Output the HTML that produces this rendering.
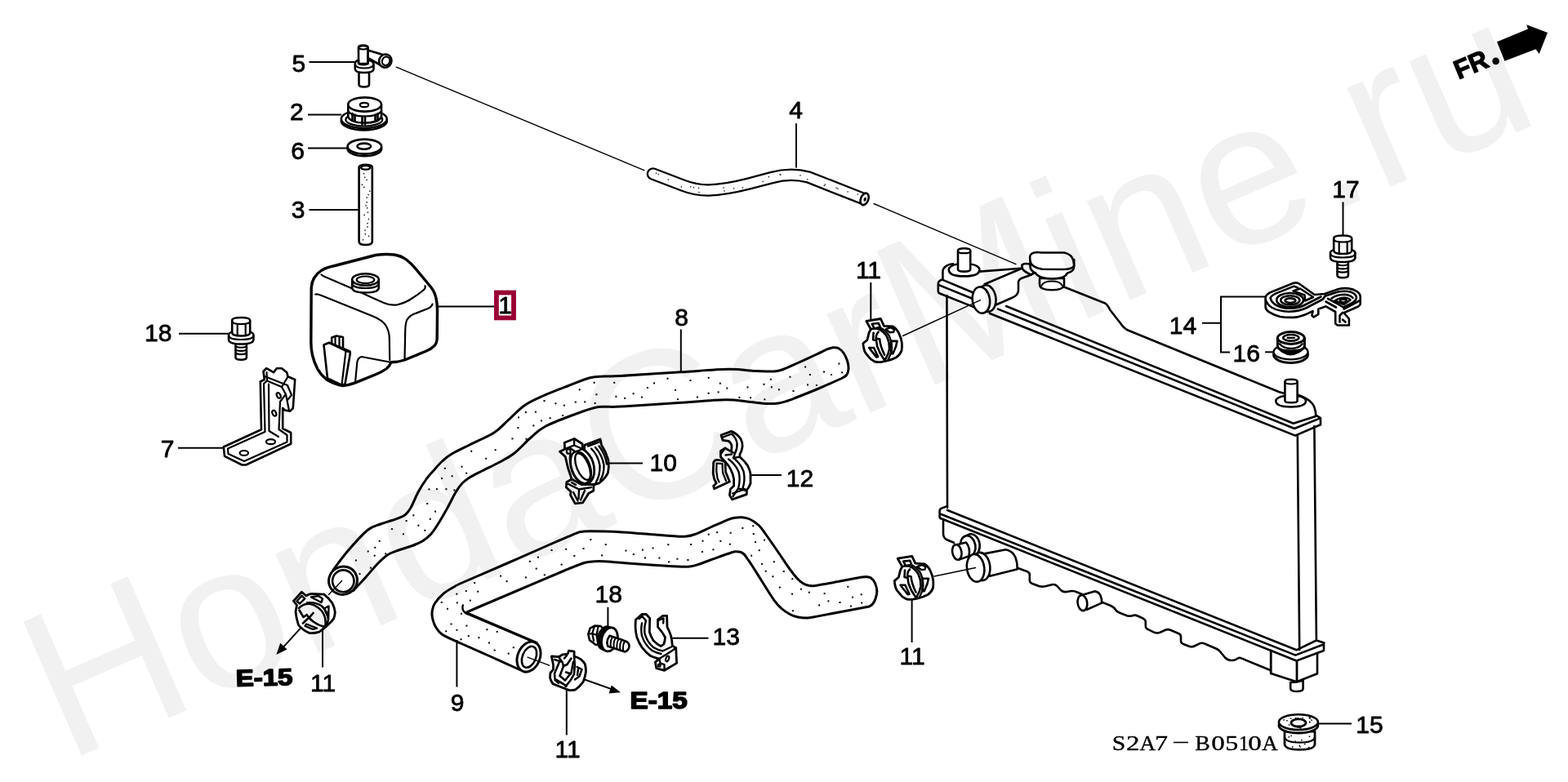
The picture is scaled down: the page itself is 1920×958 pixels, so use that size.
<!DOCTYPE html>
<html><head><meta charset="utf-8"><title>Radiator hose diagram</title>
<style>
html,body{margin:0;padding:0;background:#fff;}
body{width:1920px;height:958px;overflow:hidden;font-family:"Liberation Sans",sans-serif;}
svg{display:block;}
.o{fill:#fff;stroke:#000;stroke-width:2.6;stroke-linejoin:round;stroke-linecap:round;}
.k{fill:#fff;stroke:#000;stroke-width:3.4;stroke-linejoin:round;stroke-linecap:round;}
.n{fill:none;stroke:#000;stroke-width:2.6;stroke-linejoin:round;stroke-linecap:round;}
.m{fill:none;stroke:#000;stroke-width:2.2;stroke-linejoin:round;stroke-linecap:round;}
.t{fill:none;stroke:#000;stroke-width:1.4;stroke-linecap:round;}
.l{fill:none;stroke:#000;stroke-width:2;}
.b{fill:#000;stroke:none;}
.g{fill:#000;stroke:#000;stroke-width:0.8;stroke-linejoin:round;font-family:"Liberation Sans",sans-serif;font-size:30px;}
.d{fill:#000;}
</style></head><body>
<svg width="1920" height="958" viewBox="0 0 1920 958">
<rect x="0" y="0" width="1920" height="958" fill="#fff"/>
<defs>
<!-- bolt symbol: origin top-center of head -->
<g id="bolt">
<path class="o" d="M-6.7,30 V49.3 Q-6.7,52.3 0,52.3 Q6.7,52.3 6.7,49.3 V30 Z"/>
<path class="m" d="M-6.7,36 Q0,38.5 6.7,36 M-6.7,40.2 Q0,42.7 6.7,40.2 M-6.7,44.4 Q0,46.9 6.7,44.4"/>
<path class="o" d="M-15.2,22 Q-15.2,17 0,17 Q15.2,17 15.2,22 V27.5 Q15.2,33 0,33 Q-15.2,33 -15.2,27.5 Z"/>
<path class="m" d="M-15.2,22 Q-15.2,27.5 0,27.5 Q15.2,27.5 15.2,22"/>
<path class="o" d="M-11,4 Q-11,0.5 0,0.5 Q11,0.5 11,4 V19 Q11,23 0,23 Q-11,23 -11,19 Z"/>
<path class="m" d="M-11,5 Q-11,8.5 0,8.5 Q11,8.5 11,5 M-4.5,8.5 V22.5 M5.5,8.5 V22.5"/>
</g>
</defs>

<defs>
<!-- clamp symbol (orientation A/C), local coords -->
<g id="clampA">
<path class="o" style="stroke-width:2.8" d="M14.2,14.2 L31.8,11.3 L35.8,20.1 L46.8,20.8 Q51.5,23.5 54.1,29.2 Q57,35 57.7,41 Q58.2,46 57.4,50.4 Q55.5,55.5 51.1,58.5 Q45.5,61.5 39.5,62.8 L33,64.2 Q28,64.8 24.1,63.6 Q19,61 16,56.5 Q13.2,53.5 12.1,51.1 Q10.6,46.5 10.2,41.6 L15.3,37.3 L17.5,28.5 L19.7,24.1 Z"/>
<path class="n" style="stroke-width:2.6" d="M21.2,17.6 L29.2,16.8 L31.2,21.5 L24,23.2 Z"/>
<path class="n" style="stroke-width:2.6" d="M19.7,24.1 Q24,22.5 29.5,24 Q36,27 39.5,33.5 Q42.8,40.5 42.5,48 Q41.5,54.5 38,60 L36,63.5"/>
<path class="n" style="stroke-width:2.4" d="M29.5,24 L32,22.6 Q38,25.5 42,32 Q45.5,39 45.3,47.5 Q44.6,55 41,61.5"/>
<path class="n" style="stroke-width:2.6" d="M23,28.5 L22.5,37 L26.5,38 L27.5,45 Q30,53 35.5,60.5 M29,27.5 Q26,30 26.2,35.5 L30.5,36.2 Q31.5,46 36.5,55.5"/>
<path class="n" style="stroke-width:2.4" d="M38,24.2 L43,28 L47.5,27.6 L48.5,24.5 L44,22 Z"/>
<path class="n" style="stroke-width:2.6" d="M44.6,38.7 H51.9 L50.5,45 L46.8,54.1 H44.9 Z"/>
<path class="n" style="stroke-width:2.6" d="M17.5,46.8 H23.4 L28.5,57.7 L26.5,58.2 Z"/>
</g>
</defs>

<!-- part 5 joint -->
<g id="p5">
<path class="o" d="M439,78 V58 Q439,55.5 444.8,55.5 Q450.6,55.5 450.6,58 V78 Z"/>
<ellipse class="m" cx="444.8" cy="58.3" rx="5.6" ry="2.2"/>
<path class="o" d="M450.6,61.5 L469.5,67.2 L465.5,79.5 L450.6,71 Z"/>
<ellipse class="o" cx="471.8" cy="74.6" rx="7.6" ry="8.2" transform="rotate(20 471.8 74.6)"/>
<ellipse class="m" cx="472.6" cy="74.8" rx="4.6" ry="5.4" transform="rotate(20 472.6 74.8)"/>
<path class="o" d="M439.5,88 V103.5 Q439.5,106.5 445.8,106.5 Q452,106.5 452,103.5 V88 Z"/>
<path class="o" d="M434.8,78.5 Q434.8,74.5 439,73.8 V78 Q445,80.5 450.6,78 V73.8 Q457.5,74.5 457.5,79 V84.5 Q457.5,89 446,89 Q434.8,89 434.8,84.5 Z"/>
<path class="m" d="M434.8,79 Q436,83.5 446,83.5 Q456.5,83.5 457.5,79"/>
</g>
<!-- part 2 cap -->
<g id="p2">
<ellipse class="o" cx="445.8" cy="148.2" rx="28" ry="11.2"/>
<ellipse class="o" cx="445.8" cy="145.8" rx="28" ry="11.2"/>
<ellipse class="m" cx="445.8" cy="146.5" rx="22.5" ry="8"/>
<path class="o" d="M426.3,128 V143.5 Q430,150.5 446.5,150.5 Q463,150.5 467,143.5 V128 Z"/>
<ellipse class="o" cx="446.6" cy="128" rx="20.4" ry="8.6"/>
<path class="m" d="M426.3,136.5 Q431,142.5 446.5,142.5 Q462,142.5 467,136.5"/>
<path class="n" d="M431.5,139 V147.5 M434.5,140.5 V148.5 M443.5,142.5 V152.5 M447,142.5 V152.5 M459.5,140.5 V148.5 M462.5,139 V147.5"/>
<ellipse class="m" cx="446" cy="128.5" rx="5.2" ry="2.6"/>
</g>
<!-- part 6 washer -->
<g id="p6">
<ellipse class="o" cx="446.4" cy="182.3" rx="20.8" ry="9"/>
<ellipse class="o" cx="446.4" cy="179.6" rx="20.8" ry="9"/>
<ellipse class="n" cx="445.8" cy="179.2" rx="8.4" ry="3.6"/>
</g>
<!-- part 3 tube -->
<g id="p3">
<path class="o" d="M439.6,205 Q439.6,201.8 447.6,201.8 Q455.8,201.8 455.8,205 V296 Q455.8,300 447.6,300 Q439.6,300 439.6,296 Z"/>
<ellipse class="m" cx="447.7" cy="205.3" rx="5.6" ry="2.4"/>
<g id="p3dots"><g class="d"><rect x="444.8" y="212.1" width="1.4" height="1.4"/><rect x="446.0" y="216.5" width="1.4" height="1.4"/><rect x="448.4" y="219.7" width="1.4" height="1.4"/><rect x="442.6" y="225.6" width="1.4" height="1.4"/><rect x="445.0" y="228.7" width="1.4" height="1.4"/><rect x="452.0" y="233.4" width="1.4" height="1.4"/><rect x="450.4" y="237.8" width="1.4" height="1.4"/><rect x="448.6" y="241.4" width="1.4" height="1.4"/><rect x="448.5" y="247.1" width="1.4" height="1.4"/><rect x="447.5" y="251.2" width="1.4" height="1.4"/><rect x="448.9" y="254.1" width="1.4" height="1.4"/><rect x="449.7" y="259.5" width="1.4" height="1.4"/><rect x="445.4" y="262.7" width="1.4" height="1.4"/><rect x="450.7" y="267.8" width="1.4" height="1.4"/><rect x="449.3" y="273.0" width="1.4" height="1.4"/><rect x="449.3" y="277.3" width="1.4" height="1.4"/><rect x="446.3" y="281.4" width="1.4" height="1.4"/><rect x="446.7" y="286.0" width="1.4" height="1.4"/><rect x="450.8" y="288.6" width="1.4" height="1.4"/><rect x="443.8" y="293.1" width="1.4" height="1.4"/></g></g>
</g>

<path class="l" d="M378.5,76 H434"/>
<text class="g" x="357.56" y="87.7">5</text>
<path class="l" d="M377,140.6 H418"/>
<text class="g" x="355.06" y="146.9">2</text>
<path class="l" d="M377,181.4 H425.5"/>
<text class="g" x="356.26" y="194.5">6</text>
<path class="l" d="M378.5,257 H439.5"/>
<text class="g" x="356.76" y="267.2">3</text>

<!-- tank 1 -->
<g id="tank">
<path class="k" d="M381.2,352.5 Q382,339 393.8,331.2 Q400,327.5 410,325.5 L460,312.5 Q472,310.8 482.5,312 Q491.5,313.5 497.5,318 Q504,323 510,330.5 L527.5,351.5 Q532.5,358 534,365.5 Q535.5,372 535.5,380 L535.2,414 Q535,420.5 532,423.5 Q528,427.5 522,430 L495.5,441 Q488,443.5 478.8,443.8 Q477,448.5 473.5,451.5 Q468,455.5 460,458.8 L435,468.8 Q427,472 419.5,472.5 Q409,470.5 400,465 Q393,459.5 388.8,452 Q384.5,443.5 382.5,435 Q380.8,427 380.8,419 Z"/>
<!-- upper ridge -->
<path class="m" d="M393.5,336.5 Q395,338 400,340 L436,355.5 Q455,364.5 470,371 Q478,374.5 486,373.5 Q497,371 506,364.5 Q514,359.5 519.5,354.5 Q521.2,352.5 520.5,350.2"/>
<!-- lower ridge -->
<path class="m" d="M386.2,360.5 Q389,360 393,361.8 L458,388 Q468,392.5 472,398 Q476.5,405 476.8,414 L477.2,441"/>
<!-- right face -->
<path class="m" d="M529.5,372.5 Q528.5,376 524,378 L506,385 Q499,388.5 497.5,394 Q496.2,399 496.2,406 L495.5,440.5"/>
<!-- filler neck -->
<path class="o" d="M431.2,342.5 V352.5 Q431.5,358.5 447.5,358.5 Q463.5,358.5 463.8,352.5 V342.5 Z"/>
<path class="m" d="M431.2,347 Q432,353 447.5,353 Q463,353 463.8,347"/>
<ellipse class="o" cx="447.5" cy="342.5" rx="16.3" ry="7.2"/>
<ellipse class="m" cx="447.5" cy="342.8" rx="10.8" ry="4.3"/>
<!-- notch -->
<path class="m" d="M435,468.5 L437.3,444 Q438,438.5 442.5,437 L477,443.5"/>
<!-- tab -->
<path class="o" d="M406.2,422 V413.5 L412,411.5 L420,413 V429"/>
<path class="m" d="M410.5,412.5 V423.5 M415.5,412.5 V425"/>
<path class="o" d="M396.5,422.5 L403,419.8 L428.5,430.5 L428.8,433 L422.5,470.5 L419,472 L401,463.5 Z"/>
<path class="m" d="M403,420 L423.5,430 L418.5,471.5 M423.5,430 L428.5,431.5"/>
</g>
<!-- label 1 -->
<path class="l" d="M537,375.4 H606"/>
<rect x="607.9" y="358.5" width="21.1" height="30.9" fill="#fff" stroke="#990033" stroke-width="5.8"/>
<text class="g" x="610.26" y="383.8">1</text>
<!-- bolt 18 left -->
<use href="#bolt" transform="translate(295.2,388.5)"/>
<path class="l" d="M219,408.8 H279.5"/>
<text class="g" x="177.02" y="417.5">18</text>
<!-- bolt 17 -->
<use href="#bolt" transform="translate(1644.2,288)"/>
<path class="l" d="M1644.5,247.5 V288"/>
<text class="g" x="1631.22" y="241.7">17</text>

<!-- bracket 7 -->
<g id="br7">
<path class="o" d="M273.8,547.5 L320,526.2 L318.8,467.5 L323.8,465 L322.5,455 L326.2,451.2 L335,456.2 L338.8,451.2 L345,451.2 L351.2,456.2 L352.5,461.2 L361.2,465 L358.8,500 L355,503.8 L348.8,502.5 L346.2,500 L346.2,525 L356.2,530 L356.2,543.8 L301.2,569.5 L296.2,569.5 L275,558.8 Z"/>
<path class="m" d="M279,549.5 L324.5,529 L323,470 L327,466.5 L345,474 L350,483 L343,492 L341.5,526 L351.5,533 L351.5,541.5 L299,565 L279.5,556 Z"/>
<path class="m" d="M329,470.5 L329.5,528 L341,535 M327,466.5 L326.5,456 M345,474 L352.5,461.5 M350,483 L354,503"/>
<path class="m" d="M324,461 L352,472 L357,484 L352,490"/>
<ellipse class="m" cx="298.8" cy="555" rx="5.2" ry="3"/>
<ellipse class="m" cx="331.5" cy="541.2" rx="5.5" ry="3"/>
<ellipse class="m" cx="341.2" cy="484.5" rx="2.2" ry="3.6" transform="rotate(-25 341.2 484.5)"/>
<ellipse class="m" cx="335.8" cy="506.2" rx="2.2" ry="3.6" transform="rotate(-25 335.8 506.2)"/>
</g>
<path class="l" d="M218,548.8 H273.5"/>
<text class="g" x="196.66" y="560.0">7</text>

<!-- hose 4 -->
<path d="M799.5,213 L836,227 Q852,233.3 868,233 Q888,232.3 915,225.5 L945,217.6 Q968,211.3 990,217 L1056.5,243.2" fill="none" stroke="#000" stroke-width="15.6" stroke-linecap="round" stroke-linejoin="round"/>
<path d="M799.5,213 L836,227 Q852,233.3 868,233 Q888,232.3 915,225.5 L945,217.6 Q968,211.3 990,217 L1056.5,243.2" fill="none" stroke="#fff" stroke-width="11" stroke-linecap="round" stroke-linejoin="round"/>
<ellipse class="o" cx="1058.6" cy="243.9" rx="4.6" ry="7.6" transform="rotate(22 1058.6 243.9)"/>
<ellipse class="d" cx="1059.2" cy="244.2" rx="1.6" ry="2.6" transform="rotate(22 1059.2 244.2)"/>
<g class="d"><rect x="802.8" y="211.6" width="1.3" height="1.3"/><rect x="805.6" y="213.0" width="1.3" height="1.3"/><rect x="817.6" y="219.4" width="1.3" height="1.3"/><rect x="833.7" y="228.2" width="1.3" height="1.3"/><rect x="848.8" y="229.1" width="1.3" height="1.3"/><rect x="845.0" y="228.3" width="1.3" height="1.3"/><rect x="854.9" y="229.7" width="1.3" height="1.3"/><rect x="855.3" y="234.9" width="1.3" height="1.3"/><rect x="886.4" y="233.3" width="1.3" height="1.3"/><rect x="885.4" y="229.4" width="1.3" height="1.3"/><rect x="897.9" y="230.1" width="1.3" height="1.3"/><rect x="908.8" y="229.2" width="1.3" height="1.3"/><rect x="940.7" y="216.0" width="1.3" height="1.3"/><rect x="933.5" y="221.8" width="1.3" height="1.3"/><rect x="955.2" y="213.5" width="1.3" height="1.3"/><rect x="954.4" y="213.1" width="1.3" height="1.3"/><rect x="988.1" y="219.1" width="1.3" height="1.3"/><rect x="979.3" y="214.2" width="1.3" height="1.3"/><rect x="1009.8" y="225.3" width="1.3" height="1.3"/><rect x="1008.6" y="226.7" width="1.3" height="1.3"/><rect x="1023.4" y="229.6" width="1.3" height="1.3"/><rect x="1025.3" y="230.4" width="1.3" height="1.3"/><rect x="1037.4" y="234.3" width="1.3" height="1.3"/><rect x="1049.7" y="237.4" width="1.3" height="1.3"/></g>
<path class="t" d="M485.2,82.2 L788.8,208.6 M1070,249.5 L1244,323.6"/>
<path class="l" d="M975,151.2 V205.5"/>
<text class="g" x="966.16" y="145.0">4</text>
<!-- hose 8 -->
<path class="o" style="stroke-width:3" d="M407.8,698.6 C410.7,694.8 418.0,684.2 425.0,676.0 C432.0,667.8 443.2,655.2 450.0,649.5 C456.8,643.8 461.0,644.0 466.0,642.0 C471.0,640.0 475.2,639.2 480.0,637.5 C484.8,635.8 491.2,634.1 495.0,631.5 C498.8,628.9 500.1,626.9 503.0,622.0 C505.9,617.1 509.3,607.8 512.5,602.0 C515.7,596.2 519.1,591.1 522.0,587.0 C524.9,582.9 526.8,581.1 530.0,577.5 C533.2,573.9 537.2,569.0 541.0,565.5 C544.8,562.0 546.8,559.9 552.5,556.5 C558.2,553.1 566.2,549.4 575.0,545.0 C583.8,540.6 597.2,535.0 605.0,530.0 C612.8,525.0 615.8,520.6 622.0,515.0 C628.2,509.4 635.3,501.5 642.5,496.5 C649.7,491.5 656.2,488.9 665.0,485.0 C673.8,481.1 685.4,476.7 695.0,473.0 C704.6,469.3 715.0,464.8 722.5,462.8 C730.0,460.8 733.8,461.4 740.0,461.0 C746.2,460.6 744.3,461.4 760.0,460.5 C775.7,459.6 812.3,457.2 834.2,455.8 C856.1,454.4 876.4,452.5 891.5,452.3 C906.6,452.1 916.1,454.1 925.0,454.5 C933.9,454.9 939.8,455.2 945.0,455.0 C950.2,454.8 951.0,455.1 956.0,453.5 C961.0,451.9 967.7,448.8 975.0,445.5 C982.3,442.2 993.8,436.9 1000.0,434.0 C1006.2,431.1 1008.8,429.6 1012.0,428.2 C1015.2,426.8 1018.1,426.2 1019.3,425.8 C1020.5,425.9 1024.2,425.4 1026.5,426.5 C1028.8,427.6 1031.2,429.9 1033.0,432.5 C1034.8,435.1 1036.5,438.8 1037.5,442.0 C1038.5,445.2 1039.2,449.1 1039.0,452.0 C1038.8,454.9 1037.9,457.6 1036.5,459.5 C1035.1,461.4 1031.6,462.8 1030.6,463.5 C1025.5,465.8 1009.3,473.1 1000.0,477.0 C990.7,480.9 981.2,484.6 975.0,487.0 C968.8,489.4 966.6,490.3 962.9,491.5 C959.2,492.7 956.8,493.5 953.0,494.0 C949.2,494.5 946.3,494.8 940.0,494.5 C933.7,494.2 923.7,492.8 915.0,492.0 C906.3,491.2 902.0,489.4 887.8,489.7 C873.6,489.9 851.3,492.1 830.0,493.5 C808.7,494.9 774.7,497.3 760.0,498.1 C745.3,498.9 747.3,498.1 742.0,498.3 C736.7,498.5 735.0,497.7 728.0,499.5 C721.0,501.3 710.1,505.2 700.0,509.0 C689.9,512.8 675.8,518.0 667.5,522.5 C659.2,527.0 656.2,530.6 650.0,536.0 C643.8,541.4 636.3,550.0 630.0,555.0 C623.7,560.0 618.7,562.3 612.0,566.0 C605.3,569.7 596.2,573.8 590.0,577.0 C583.8,580.2 579.0,582.5 575.0,585.0 C571.0,587.5 568.8,589.0 566.0,592.0 C563.2,595.0 561.0,598.0 558.0,603.0 C555.0,608.0 551.5,615.7 548.0,622.0 C544.5,628.3 540.3,635.7 537.0,641.0 C533.7,646.3 531.2,650.4 528.0,654.0 C524.8,657.6 521.8,660.1 518.0,662.5 C514.2,664.9 510.0,666.6 505.0,668.5 C500.0,670.4 493.0,672.2 488.0,674.0 C483.0,675.8 479.3,676.7 475.0,679.5 C470.7,682.3 466.5,686.4 462.0,691.0 C457.5,695.6 452.9,701.6 448.0,707.0 C443.1,712.4 435.3,720.7 432.8,723.4 Z"/>
<g class="d"><rect x="493.0" y="653.3" width="2" height="2"/><rect x="452.9" y="694.6" width="2" height="2"/><rect x="576.2" y="551.8" width="2" height="2"/><rect x="970.5" y="478.0" width="2" height="2"/><rect x="1026.4" y="444.5" width="2" height="2"/><rect x="935.3" y="488.3" width="2" height="2"/><rect x="852.9" y="485.5" width="2" height="2"/><rect x="552.6" y="582.3" width="2" height="2"/><rect x="633.4" y="523.1" width="2" height="2"/><rect x="519.3" y="648.8" width="2" height="2"/><rect x="816.5" y="462.8" width="2" height="2"/><rect x="800.0" y="468.4" width="2" height="2"/><rect x="524.4" y="598.4" width="2" height="2"/><rect x="1017.0" y="458.0" width="2" height="2"/><rect x="708.7" y="476.3" width="2" height="2"/><rect x="626.4" y="536.4" width="2" height="2"/><rect x="496.6" y="637.1" width="2" height="2"/><rect x="463.7" y="661.8" width="2" height="2"/><rect x="703.8" y="491.6" width="2" height="2"/><rect x="784.9" y="485.6" width="2" height="2"/><rect x="753.4" y="484.8" width="2" height="2"/><rect x="914.5" y="473.4" width="2" height="2"/><rect x="471.2" y="677.3" width="2" height="2"/><rect x="688.0" y="508.0" width="2" height="2"/><rect x="988.0" y="470.4" width="2" height="2"/><rect x="943.8" y="473.3" width="2" height="2"/><rect x="889.3" y="474.6" width="2" height="2"/><rect x="966.4" y="460.7" width="2" height="2"/><rect x="764.1" y="486.9" width="2" height="2"/><rect x="654.9" y="503.6" width="2" height="2"/><rect x="457.7" y="679.7" width="2" height="2"/><rect x="689.9" y="495.7" width="2" height="2"/><rect x="439.5" y="702.1" width="2" height="2"/><rect x="605.6" y="550.2" width="2" height="2"/><rect x="672.6" y="511.2" width="2" height="2"/><rect x="543.8" y="572.8" width="2" height="2"/><rect x="661.9" y="514.4" width="2" height="2"/><rect x="866.7" y="461.8" width="2" height="2"/><rect x="665.5" y="490.1" width="2" height="2"/><rect x="1030.2" y="455.3" width="2" height="2"/><rect x="652.3" y="520.4" width="2" height="2"/><rect x="828.9" y="488.2" width="2" height="2"/><rect x="505.3" y="630.3" width="2" height="2"/><rect x="642.9" y="503.9" width="2" height="2"/><rect x="844.5" y="465.1" width="2" height="2"/><rect x="998.9" y="471.0" width="2" height="2"/><rect x="880.8" y="468.7" width="2" height="2"/><rect x="1008.0" y="454.5" width="2" height="2"/><rect x="904.4" y="485.9" width="2" height="2"/><rect x="726.6" y="467.8" width="2" height="2"/><rect x="990.9" y="458.0" width="2" height="2"/><rect x="729.4" y="482.3" width="2" height="2"/><rect x="525.7" y="634.9" width="2" height="2"/><rect x="478.9" y="647.1" width="2" height="2"/><rect x="545.4" y="598.2" width="2" height="2"/><rect x="425.9" y="697.8" width="2" height="2"/><rect x="985.1" y="448.5" width="2" height="2"/><rect x="679.4" y="493.3" width="2" height="2"/><rect x="952.9" y="476.3" width="2" height="2"/><rect x="564.5" y="570.7" width="2" height="2"/><rect x="449.7" y="674.5" width="2" height="2"/><rect x="634.0" y="510.4" width="2" height="2"/><rect x="643.5" y="536.7" width="2" height="2"/><rect x="826.1" y="476.8" width="2" height="2"/><rect x="555.4" y="599.5" width="2" height="2"/><rect x="532.0" y="625.6" width="2" height="2"/><rect x="458.3" y="669.8" width="2" height="2"/><rect x="715.2" y="491.4" width="2" height="2"/><rect x="594.2" y="560.8" width="2" height="2"/><rect x="533.9" y="598.2" width="2" height="2"/><rect x="570.2" y="578.7" width="2" height="2"/><rect x="934.4" y="469.8" width="2" height="2"/><rect x="434.0" y="716.4" width="2" height="2"/><rect x="866.6" y="480.8" width="2" height="2"/><rect x="435.0" y="685.5" width="2" height="2"/><rect x="942.8" y="463.8" width="2" height="2"/><rect x="918.1" y="486.3" width="2" height="2"/><rect x="751.2" y="467.8" width="2" height="2"/><rect x="522.2" y="616.0" width="2" height="2"/><rect x="774.6" y="481.2" width="2" height="2"/><rect x="727.6" y="493.0" width="2" height="2"/><rect x="878.6" y="479.4" width="2" height="2"/><rect x="540.0" y="585.1" width="2" height="2"/><rect x="791.9" y="474.0" width="2" height="2"/><rect x="511.4" y="642.7" width="2" height="2"/></g>
<ellipse class="o" style="stroke-width:3" cx="420" cy="711.2" rx="17.6" ry="17" transform="rotate(-30 420 711.2)"/>
<ellipse class="n" cx="420.3" cy="711.8" rx="13.2" ry="13.4"/>
<path class="l" d="M833.8,403.5 V455.5"/>
<text class="g" x="826.36" y="398.5">8</text>
<!-- hose 9 -->
<path class="o" style="stroke-width:3" d="M636.5,820.5 C630.4,817.8 611.9,809.3 600.0,804.0 C588.1,798.7 574.7,792.9 565.0,788.5 C555.3,784.1 547.0,780.9 541.8,777.5 C536.5,774.1 535.5,771.4 533.5,768.0 C531.5,764.6 530.2,760.3 529.5,757.0 C528.8,753.7 528.8,751.0 529.3,748.0 C529.8,745.0 530.1,742.5 532.5,739.0 C534.9,735.5 539.6,730.1 543.4,726.9 C547.1,723.6 551.1,721.7 555.0,719.5 C558.9,717.3 556.0,718.3 566.8,713.5 C577.6,708.7 602.8,698.0 620.0,690.5 C637.2,683.0 655.8,674.7 670.0,668.5 C684.2,662.3 698.4,656.2 705.4,653.4 C712.4,650.6 709.2,651.9 712.0,651.5 C714.8,651.1 714.2,650.8 722.0,650.8 C729.8,650.8 745.9,651.0 758.9,651.7 C771.9,652.4 788.5,653.9 800.0,654.8 C811.5,655.7 821.2,656.6 828.0,657.0 C834.8,657.4 837.0,657.4 840.8,657.0 C844.6,656.6 846.1,656.3 851.0,654.5 C855.9,652.7 863.2,649.0 870.0,646.0 C876.8,643.0 886.5,638.6 891.5,636.6 C896.5,634.6 897.2,634.8 900.0,634.3 C902.8,633.8 905.4,633.5 908.4,633.8 C911.4,634.1 914.5,634.4 918.0,636.0 C921.5,637.6 925.8,640.3 929.1,643.5 C932.4,646.7 933.7,649.0 938.0,655.0 C942.3,661.0 950.0,672.2 955.0,679.5 C960.0,686.8 964.5,693.7 968.0,698.5 C971.5,703.3 973.6,705.8 976.1,708.5 C978.6,711.2 980.5,713.0 983.0,714.5 C985.5,716.0 988.3,716.9 991.1,717.4 C993.9,717.9 993.5,718.1 1000.0,717.2 C1006.5,716.3 1021.7,713.3 1030.0,711.8 C1038.3,710.3 1044.9,708.9 1050.0,708.0 C1055.1,707.1 1058.8,706.8 1060.6,706.5 C1061.6,706.8 1064.7,706.7 1066.5,708.0 C1068.3,709.3 1070.3,711.8 1071.5,714.5 C1072.7,717.2 1073.7,720.8 1073.8,724.0 C1073.9,727.2 1072.9,730.8 1072.0,733.5 C1071.1,736.2 1069.8,738.4 1068.5,740.0 C1067.2,741.6 1065.1,742.5 1064.4,743.0 C1058.7,744.1 1040.2,747.6 1030.0,749.5 C1019.8,751.4 1009.8,753.4 1003.0,754.6 C996.2,755.8 993.5,756.7 989.2,756.9 C984.9,757.1 980.8,756.8 977.0,756.0 C973.2,755.2 970.0,754.0 966.7,752.2 C963.4,750.5 960.1,748.3 957.0,745.5 C953.9,742.7 952.1,741.1 947.9,735.3 C943.7,729.5 936.6,717.8 932.0,710.5 C927.4,703.2 923.0,696.1 920.0,691.5 C917.0,686.9 915.7,685.2 914.1,683.0 C912.5,680.8 911.8,679.6 910.5,678.5 C909.2,677.4 908.2,676.8 906.6,676.3 C905.0,675.8 902.9,675.6 901.0,675.7 C899.1,675.8 900.5,675.3 895.3,677.0 C890.1,678.7 876.7,683.6 870.0,686.0 C863.3,688.4 859.2,690.2 855.0,691.5 C850.8,692.8 848.8,693.6 844.6,694.0 C840.4,694.4 837.4,694.3 830.0,694.0 C822.6,693.7 811.7,693.1 800.0,692.3 C788.3,691.5 770.0,690.0 760.0,689.3 C750.0,688.5 745.3,688.0 740.0,687.8 C734.7,687.5 732.1,687.5 728.0,687.8 C723.9,688.1 721.7,687.5 715.4,689.5 C709.1,691.5 704.2,693.6 690.0,699.5 C675.8,705.4 646.7,717.9 630.0,725.0 C613.3,732.1 599.9,737.8 590.0,742.0 C580.1,746.2 573.8,749.0 570.6,750.4 L657,787.5 L636.5,820.5 Z"/>
<path class="n" style="stroke-width:2.4" d="M566.8,741.5 Q565,747.5 570.6,751.5 L657.5,787.8"/>
<g class="d"><rect x="604.7" y="795.6" width="2" height="2"/><rect x="924.1" y="663.1" width="2" height="2"/><rect x="674.5" y="673.0" width="2" height="2"/><rect x="637.9" y="799.3" width="2" height="2"/><rect x="574.8" y="734.6" width="2" height="2"/><rect x="877.1" y="651.2" width="2" height="2"/><rect x="845.0" y="666.0" width="2" height="2"/><rect x="558.8" y="737.4" width="2" height="2"/><rect x="859.5" y="661.7" width="2" height="2"/><rect x="765.4" y="673.6" width="2" height="2"/><rect x="585.4" y="780.2" width="2" height="2"/><rect x="969.0" y="726.7" width="2" height="2"/><rect x="892.8" y="665.7" width="2" height="2"/><rect x="642.9" y="706.4" width="2" height="2"/><rect x="722.3" y="660.1" width="2" height="2"/><rect x="908.3" y="646.0" width="2" height="2"/><rect x="945.4" y="705.3" width="2" height="2"/><rect x="1008.6" y="726.1" width="2" height="2"/><rect x="817.3" y="666.2" width="2" height="2"/><rect x="740.7" y="666.1" width="2" height="2"/><rect x="1013.4" y="735.4" width="2" height="2"/><rect x="921.7" y="653.1" width="2" height="2"/><rect x="657.9" y="681.7" width="2" height="2"/><rect x="858.9" y="675.0" width="2" height="2"/><rect x="702.3" y="679.9" width="2" height="2"/><rect x="928.7" y="673.2" width="2" height="2"/><rect x="539.7" y="736.9" width="2" height="2"/><rect x="1002.1" y="740.4" width="2" height="2"/><rect x="655.7" y="695.6" width="2" height="2"/><rect x="936.7" y="698.7" width="2" height="2"/><rect x="893.6" y="651.8" width="2" height="2"/><rect x="969.3" y="708.2" width="2" height="2"/><rect x="1054.2" y="737.6" width="2" height="2"/><rect x="953.8" y="718.6" width="2" height="2"/><rect x="612.1" y="704.6" width="2" height="2"/><rect x="627.8" y="792.2" width="2" height="2"/><rect x="1027.5" y="737.0" width="2" height="2"/><rect x="545.2" y="772.3" width="2" height="2"/><rect x="570.4" y="765.6" width="2" height="2"/><rect x="607.7" y="772.9" width="2" height="2"/><rect x="569.7" y="723.1" width="2" height="2"/><rect x="1040.9" y="741.6" width="2" height="2"/><rect x="643.2" y="789.0" width="2" height="2"/><rect x="572.7" y="778.1" width="2" height="2"/><rect x="558.4" y="770.8" width="2" height="2"/><rect x="665.8" y="703.3" width="2" height="2"/><rect x="563.5" y="782.2" width="2" height="2"/><rect x="881.3" y="661.9" width="2" height="2"/><rect x="789.0" y="682.4" width="2" height="2"/><rect x="841.4" y="685.0" width="2" height="2"/><rect x="828.4" y="683.7" width="2" height="2"/><rect x="935.0" y="660.6" width="2" height="2"/><rect x="551.5" y="763.5" width="2" height="2"/><rect x="798.5" y="670.5" width="2" height="2"/><rect x="785.9" y="672.6" width="2" height="2"/><rect x="713.5" y="671.0" width="2" height="2"/><rect x="1053.7" y="727.3" width="2" height="2"/><rect x="979.9" y="720.7" width="2" height="2"/><rect x="921.2" y="643.3" width="2" height="2"/><rect x="866.7" y="653.7" width="2" height="2"/><rect x="919.1" y="679.7" width="2" height="2"/><rect x="595.4" y="770.2" width="2" height="2"/><rect x="736.1" y="679.4" width="2" height="2"/><rect x="1037.3" y="717.8" width="2" height="2"/><rect x="958.7" y="699.0" width="2" height="2"/><rect x="969.9" y="747.3" width="2" height="2"/><rect x="580.1" y="713.1" width="2" height="2"/><rect x="806.4" y="682.5" width="2" height="2"/><rect x="547.0" y="744.8" width="2" height="2"/><rect x="774.8" y="678.1" width="2" height="2"/><rect x="558.3" y="726.7" width="2" height="2"/><rect x="1043.0" y="730.7" width="2" height="2"/><rect x="989.8" y="724.7" width="2" height="2"/><rect x="692.2" y="671.8" width="2" height="2"/><rect x="818.0" y="687.4" width="2" height="2"/><rect x="619.6" y="711.1" width="2" height="2"/><rect x="597.9" y="786.5" width="2" height="2"/><rect x="647.8" y="686.8" width="2" height="2"/><rect x="686.6" y="690.6" width="2" height="2"/><rect x="946.8" y="687.2" width="2" height="2"/><rect x="872.4" y="672.3" width="2" height="2"/><rect x="584.2" y="723.7" width="2" height="2"/><rect x="932.0" y="689.9" width="2" height="2"/><rect x="563.9" y="750.8" width="2" height="2"/><rect x="621.7" y="799.6" width="2" height="2"/></g>
<ellipse class="o" style="stroke-width:3" cx="647.5" cy="804.6" rx="13.6" ry="19.2" transform="rotate(22 647.5 804.6)"/>
<ellipse class="n" cx="648" cy="804.8" rx="8.2" ry="13.6" transform="rotate(22 648 804.8)"/>
<path class="l" d="M559.4,784 V841.5"/>
<text class="g" x="551.86" y="870.6">9</text>
<!-- radiator -->
<g id="rad">
<!-- core edges -->
<path class="n" d="M1159.4,362 L1160,622"/>
<path class="n" d="M1588.8,533.5 L1591.2,796 M1609.4,522 L1611.9,784"/>
<!-- top tank silhouette -->
<path class="n" d="M1301,350.8 L1352.5,371.2 Q1356,373 1359.5,380 L1372,396 Q1376,402 1381,404.5 L1566.5,480.3 L1573,482"/>
<path class="n" d="M1588.6,483.6 Q1601,487.5 1607,494.5 Q1611,500 1611.2,509"/>
<!-- right boss + pin -->
<path class="n" d="M1573.3,485 Q1562.5,486.5 1562.3,491.3 Q1562.5,498.5 1580.6,498.5 Q1598.8,498.5 1599,491.3 Q1598.8,486.5 1588.6,485"/>
<path class="o" d="M1573.4,491 V467.5 Q1573.4,464.8 1581,464.8 Q1588.6,464.8 1588.6,467.5 V491 Q1588.6,493.2 1581,493.2 Q1573.4,493.2 1573.4,491 Z"/>
<path class="m" d="M1573.4,467.8 Q1573.4,470.5 1581,470.5 Q1588.6,470.5 1588.6,467.8"/>
<!-- top lip -->
<path class="n" d="M1153.8,342.6 L1190.5,358 M1232,375 L1583.8,518.8 L1612.5,509.4 L1616.6,511.8"/>
<path class="n" d="M1150.2,349.4 L1191,366 M1222,378.6 L1585,525 L1616.6,512.4"/>
<path class="n" d="M1152,360 L1196,377.6 M1212,384 L1586,533.6 L1617,520.2 V512"/>
<path class="n" d="M1154,342.5 Q1148.8,344 1148.8,347.5 V356.5 Q1148.8,359.5 1152,360"/>
<!-- left block of top tank -->
<path class="n" d="M1154.4,342.5 V332.5 Q1154.8,328 1159,325.6 Q1162.5,323.5 1167,323.3"/>
<!-- left boss + pin -->
<path class="n" d="M1173,323.5 Q1162,325 1161.8,330.6 Q1162,338.4 1180.6,338.4 Q1199.2,338.4 1199.4,330.6 Q1199.2,325 1188.3,323.5"/>
<path class="o" d="M1173,330 V307 Q1173,304.2 1180.6,304.2 Q1188.2,304.2 1188.2,307 V330 Q1188.2,332.6 1180.6,332.6 Q1173,332.6 1173,330 Z"/>
<path class="m" d="M1173,307.4 Q1173,310.2 1180.6,310.2 Q1188.2,310.2 1188.2,307.4"/>
<!-- tank top edge and neck -->
<path class="n" d="M1199.5,332.6 L1250.5,328.8"/>
<path class="n" d="M1205.5,348.2 L1250,329.2"/>
<path class="n" d="M1220,373.2 L1240,364.5 Q1246.5,361.5 1247,356 L1247,345.5 Q1247.5,342 1252,340.5 L1262.5,336.8"/>
<!-- neck rings -->
<ellipse class="o" cx="1208.6" cy="365.6" rx="10.8" ry="16.4" transform="rotate(-8 1208.6 365.6)"/>
<ellipse class="o" cx="1201.4" cy="367.6" rx="10.6" ry="16.2" transform="rotate(-8 1201.4 367.6)"/>
<!-- radiator cap -->
<path class="o" d="M1251.5,324.5 Q1254,322 1262,323.8 L1268,333.5 L1262.5,336.5 Q1254,333 1251.5,328.5 Z"/>
<path class="o" d="M1273,341 V349 Q1273.5,355.2 1288,355.2 Q1302.5,355.2 1303,349 V341 Z"/>
<path class="m" d="M1275.5,349.5 Q1278,344.5 1288,344.5 Q1298,344.5 1300.5,349.5"/>
<path class="o" d="M1261.5,318 V327 Q1262,332 1268,334.5 Q1272,341.5 1288,341.5 Q1304,341.5 1307,334.5 Q1315,333 1315.2,326 V318 Z"/>
<path class="o" d="M1261.2,314 Q1262,309.5 1270,309 L1275,309.5 L1303,309.5 Q1311,311.5 1313,316 Q1315.5,321 1315,326 Q1312,330 1302,330 L1276,329.8 Q1266,328 1262.5,323 Q1260.8,318.5 1261.2,314 Z"/>
<!-- bottom lip -->
<path class="n" d="M1160,625 L1587.5,796.3 L1611.9,784.5 L1621.2,787.6"/>
<path class="n" d="M1152.5,630 L1586.3,802.6 L1620.5,789.5"/>
<path class="n" d="M1152.5,635.2 L1587.5,809.5 L1621,797 V787.5"/>
<path class="n" d="M1160,620 L1153,622.6 Q1150.6,623.6 1150.6,626 V633 Q1150.6,635 1152.5,635.2"/>
<!-- lower tank left -->
<path class="n" d="M1155,637 V654 Q1155.2,659.5 1160,661.5 L1168,664.8"/>
<!-- small pipe -->
<ellipse class="o" cx="1190" cy="667.3" rx="9.6" ry="13.2" transform="rotate(-10 1190 667.3)"/>
<ellipse class="o" cx="1185.2" cy="669" rx="9.2" ry="12.8" transform="rotate(-10 1185.2 669)"/>
<path class="o" d="M1171,667.4 L1183,664.6 Q1188.5,671 1186.5,681.2 L1174.5,685.6 Z"/>
<ellipse class="o" cx="1171.8" cy="676.4" rx="5.6" ry="9.4" transform="rotate(-10 1171.8 676.4)"/>
<!-- big pipe -->
<path class="o" d="M1205,678.4 L1231.8,673.2 Q1240,675 1243.5,683 Q1245.8,689 1245.8,697.2 L1212,705.8 Z"/>
<ellipse class="o" cx="1201.4" cy="694" rx="10.8" ry="17.2" transform="rotate(-8 1201.4 694)"/>
<ellipse class="o" cx="1194.6" cy="695.8" rx="10.6" ry="17" transform="rotate(-8 1194.6 695.8)"/>
<!-- wavy bottom -->
<path class="n" d="M1245.8,695.8 L1258,700.2 Q1260.8,701.5 1260.8,704 V711 Q1261,714 1264,715 L1272,718 Q1276,719.3 1281,718 L1288,716.2 Q1292,715.5 1294.5,718 L1299,723 Q1302,725.8 1306,725 L1312,724 Q1316,723.8 1319,725.5 L1326,728.5"/>
<path class="o" d="M1326.5,728.4 L1340,724.4 Q1345,724.6 1347.5,729.5 Q1349.3,733.5 1349.2,738.6 L1331,746.8 Z"/>
<ellipse class="o" cx="1325.4" cy="738.6" rx="5.8" ry="9.6" transform="rotate(-8 1325.4 738.6)"/>
<path class="n" d="M1349.2,737.6 L1360,742 Q1364.5,744 1366,747 Q1367.5,749.5 1371,750.8 L1380,754.2 Q1383.5,755.3 1386.5,754.2 Q1390,753 1393,754.5 L1400,757.8 Q1402.8,759.2 1402.8,762 V767.5 Q1403,770 1406,771.2 L1413.5,774.8 Q1417,776.2 1420.5,774.8 L1427,771.8 Q1430,770.5 1433,771.8 L1443,776 Q1446,777.3 1446,780 V785.5 Q1446.2,788.2 1449.5,789.2 L1456,791.8 Q1459.5,793 1462.5,791.5 L1469,788.3 Q1472,787.2 1475,788.5 L1490,795 Q1493.5,796.8 1495.5,800 L1500,805.5 Q1503,808.6 1507.5,809 Q1512,809.4 1514.5,807.3 Q1517,805 1520,806.4 L1556,821.2"/>
<!-- lower tank right box -->
<path class="n" style="stroke-width:2.8" d="M1556.2,797 V825"/>
<path class="n" d="M1556.2,825 L1587.8,835.2 L1613,825.2 V800"/>
<path class="n" style="stroke-width:2.8" d="M1588,810 V835"/>
<path class="o" d="M1580.2,836 V843.5 Q1580.5,847 1588,847 Q1595.5,847 1595.6,843.5 V833.5 L1588,835.5 Z"/>
</g>

<!-- bracket 14 -->
<g id="br14">
<path class="o" style="stroke-width:2.6" d="M1549.6,364 Q1551,360.5 1555.5,358.2 L1584,346.8 Q1588,345.5 1591.5,348 L1609.5,361 L1622,360 L1638.5,354.2 Q1645,352.6 1651,353.4 Q1657,354.2 1661.5,357 Q1665.5,359.5 1665.7,363 V372.5 Q1665,375 1661,376.5 L1645.5,383.2 L1651.9,390.5 V398.5 L1637.8,398.5 L1635.2,396.5 V382 L1623.5,375.3 L1614.3,378.6 V385 L1608.6,388.4 L1606.4,386.5 L1607.6,381.2 Q1598,386.5 1588.5,388.4 Q1578,389.6 1567.6,388 Q1560,386.2 1554.2,382.4 Q1550,379.5 1549.6,376.5 Z"/>
<path class="n" d="M1549.8,367 Q1551,372.5 1557,376.5 Q1565,381.2 1578,381.8 Q1590,381.6 1599,377.5 L1620,366.5 L1622.5,362.5"/>
<path class="n" d="M1555.5,364.8 Q1557.5,361.5 1562,359.6 L1584.5,350.6 L1589,352.5 M1555.5,364.8 Q1556.5,370.5 1563,374 Q1570,377.8 1580,377.8 Q1590,377.6 1597,374 L1617.5,363.5"/>
<path class="n" d="M1583.5,356.5 L1592,353.5 L1608,364 L1598,368.5 L1597.5,361.5 Z"/>
<ellipse class="n" cx="1579.6" cy="367.6" rx="16.4" ry="8.6"/>
<ellipse class="n" cx="1579.8" cy="367.8" rx="11.6" ry="5.6"/>
<ellipse class="n" cx="1580" cy="368.2" rx="6.4" ry="2.8"/>
<path class="n" d="M1623,362.5 L1638.5,357.6 Q1647,355.8 1654,357.8 Q1660.5,360 1661,364.5 Q1660.5,368.5 1655,371.5 L1645,376.5 L1636.5,371.5 L1626,365.8"/>
<path class="n" d="M1630.5,365.5 Q1637,361 1646,360.8 Q1654,361.5 1656.5,365 M1634.5,368.5 Q1640,364.6 1647,364.8 Q1652,365.5 1653.5,367.5 L1645.5,373 Z"/>
<ellipse class="n" cx="1644.8" cy="368.6" rx="4" ry="2"/>
<path class="n" d="M1665.5,368 L1645.5,378.5 M1636,376.5 L1623.5,369.5 M1644,383 L1640.5,386.5 L1640.5,394.5 M1644,391.5 L1647.5,394.5"/>
</g>
<path class="l" d="M1550,363.6 H1495 V431.6 H1506 M1472,395.8 H1495"/>
<text class="g" x="1431.72" y="409.0">14</text>
<text class="g" x="1509.62" y="442.5">16</text>
<path class="l" d="M1549,431.3 H1560"/>
<!-- grommet 16 -->
<g id="g16">
<ellipse class="o" style="stroke-width:3" cx="1580.5" cy="434.6" rx="21" ry="9.8"/>
<ellipse class="o" style="stroke-width:2.4" cx="1580.5" cy="431.2" rx="21" ry="9.2"/>
<path class="o" style="stroke-width:2.6" d="M1565.8,424.5 Q1567,432.5 1580.6,432.5 Q1594.5,432.5 1595.8,424.5 Z"/>
<path class="n" style="stroke-width:2.6" d="M1571,431 Q1580,437.5 1590.5,431 M1576,431.5 H1585.5"/>
<path class="o" style="stroke-width:3" d="M1564.4,414 V424 Q1565,430 1580.7,430 Q1596.8,430 1597.4,424 V414 Z"/>
<path class="n" style="stroke-width:2.6" d="M1567,421.5 Q1572,427 1580.7,427 Q1590,427 1594.5,421.5"/>
<ellipse class="o" style="stroke-width:3" cx="1580.8" cy="414" rx="16.4" ry="7.4"/>
<ellipse class="n" style="stroke-width:2.6" cx="1580.8" cy="413.8" rx="9.6" ry="3.8"/>
<path class="n" style="stroke-width:2.2" d="M1576.5,413.8 H1585"/>
</g>
<!-- grommet 15 -->
<g id="g15">
<path class="o" style="stroke-width:2.8" d="M1573,896 V911.5 Q1573.5,918.4 1591.5,918.4 Q1609.6,918.4 1610,911.5 V896 Z"/>
<path class="n" style="stroke-width:2.4" d="M1573,903.5 Q1575,909.6 1591.5,909.6 Q1608,909.6 1610,903.5"/>
<ellipse class="o" style="stroke-width:2.8" cx="1589.9" cy="888.4" rx="24" ry="9.6"/>
<ellipse class="o" style="stroke-width:2.6" cx="1589.9" cy="884.6" rx="24" ry="9.4"/>
<ellipse class="n" style="stroke-width:2.8" cx="1590" cy="885.4" rx="9" ry="4.6"/>
<g class="d"><rect x="1602.9" y="883.5" width="1.5" height="1.5"/><rect x="1588.6" y="879.0" width="1.5" height="1.5"/><rect x="1603.2" y="884.2" width="1.5" height="1.5"/><rect x="1603.4" y="879.6" width="1.5" height="1.5"/><rect x="1603.1" y="878.1" width="1.5" height="1.5"/><rect x="1590.9" y="890.8" width="1.5" height="1.5"/><rect x="1585.9" y="878.8" width="1.5" height="1.5"/><rect x="1588.6" y="890.5" width="1.5" height="1.5"/><rect x="1602.5" y="878.5" width="1.5" height="1.5"/><rect x="1594.3" y="879.0" width="1.5" height="1.5"/><rect x="1605.3" y="881.5" width="1.5" height="1.5"/><rect x="1591.9" y="891.1" width="1.5" height="1.5"/><rect x="1577.8" y="887.2" width="1.5" height="1.5"/><rect x="1575.2" y="882.1" width="1.5" height="1.5"/><rect x="1571.3" y="881.2" width="1.5" height="1.5"/><rect x="1579.9" y="879.5" width="1.5" height="1.5"/><rect x="1602.0" y="914.9" width="1.5" height="1.5"/><rect x="1591.2" y="914.2" width="1.5" height="1.5"/><rect x="1577.5" y="902.1" width="1.5" height="1.5"/><rect x="1582.0" y="914.1" width="1.5" height="1.5"/><rect x="1597.0" y="910.8" width="1.5" height="1.5"/><rect x="1585.3" y="907.4" width="1.5" height="1.5"/><rect x="1602.7" y="901.5" width="1.5" height="1.5"/><rect x="1580.4" y="900.7" width="1.5" height="1.5"/><rect x="1590.6" y="912.6" width="1.5" height="1.5"/><rect x="1593.1" y="906.0" width="1.5" height="1.5"/></g></g>
<path class="l" d="M1614.2,886.6 H1655"/>
<text class="g" x="1660.32" y="897.5">15</text>
<!-- S2A7-B0510A -->
<g font-family="Liberation Serif, serif" font-size="25.5" fill="#000" stroke="#000" stroke-width="0.35" text-anchor="middle">
<text x="1369.9" y="919.2" textLength="16.5" lengthAdjust="spacingAndGlyphs">S</text>
<text x="1387.3" y="919.2" textLength="16.5" lengthAdjust="spacingAndGlyphs">2</text>
<text x="1405.3" y="919.2" textLength="19.5" lengthAdjust="spacingAndGlyphs">A</text>
<text x="1422" y="919.2" textLength="16" lengthAdjust="spacingAndGlyphs">7</text>
<text x="1472.6" y="919.2" textLength="18.5" lengthAdjust="spacingAndGlyphs">B</text>
<text x="1491.4" y="919.2" textLength="16.5" lengthAdjust="spacingAndGlyphs">0</text>
<text x="1508.2" y="919.2" textLength="16" lengthAdjust="spacingAndGlyphs">5</text>
<text x="1523.1" y="919.2" textLength="12" lengthAdjust="spacingAndGlyphs">1</text>
<text x="1536.4" y="919.2" textLength="16.5" lengthAdjust="spacingAndGlyphs">0</text>
<text x="1554.9" y="919.2" textLength="19.5" lengthAdjust="spacingAndGlyphs">A</text>
</g>
<path d="M1437,909.5 H1455" stroke="#000" stroke-width="1.6" fill="none"/>
<!-- FR arrow -->
<path class="b" d="M1833,51.3 L1871,35.4 L1869.2,30.2 L1895,40.1 L1884.7,65.9 L1880.5,60.3 L1842.4,74.8 Z"/>
<g transform="translate(1785.9,97.4) rotate(-22.5)"><text x="0" y="0" font-family="Liberation Sans, sans-serif" font-weight="bold" font-size="32.5" fill="#000" stroke="#000" stroke-width="1.3" stroke-linejoin="round" textLength="42" lengthAdjust="spacingAndGlyphs">FR</text></g>
<circle class="b" cx="1831.6" cy="74.9" r="4.3"/>

<!-- clamp 11 top (A) -->
<use href="#clampA" transform="translate(1046.6,379.2)"/>
<path class="l" d="M1066.3,346 V393"/>
<text class="g" x="1047.92" y="341.0">11</text>
<path class="t" d="M1105.5,411.5 L1200.5,367.6"/>
<!-- clamp 11 radiator bottom (C) -->
<use href="#clampA" transform="translate(1085,670)"/>
<path class="l" d="M1116.6,733 V787"/>
<text class="g" x="1101.62" y="813.8">11</text>
<path class="t" d="M1144,706 L1194.5,695.5"/>
<!-- clamp 11 left-lower (B) -->
<g id="clampB">
<path class="o" style="stroke-width:2.8" d="M359.5,736.2 L369.4,725.2 L374.8,729.8 Q378,727.6 382.1,727.4 L396.8,728.2 Q403,733 407,739.1 Q409.8,744.5 410.3,750.1 Q410,754.5 408.5,758.1 Q401,767.5 390.9,774.2 Q385,776 379.2,775.6 Q371.5,772.5 365.7,766.1 Q362.8,758 362,749.3 L363.5,741.5 Z"/>
<path class="n" style="stroke-width:2.4" d="M363.5,736.5 L369.6,729.8 L373.2,733.4 L367,739.5 Z"/>
<path class="n" style="stroke-width:2.6" d="M366,745 Q371,739.5 379,739.8 Q388,741.5 394,748.5 Q399.5,756 398.5,765.5 L396,770.5"/>
<path class="n" style="stroke-width:2.6" d="M376,738.5 Q386,737 394,742.5 Q401.5,749.5 402,759 L400.5,765"/>
<path class="n" style="stroke-width:2.6" d="M366.5,747.5 L371.5,756 L375.8,753.2 L378.5,757 Q386,765 396,767.5 M378.5,757 L383.5,751 M371,763.5 L377,757.8"/>
<path class="n" style="stroke-width:2.4" d="M381,731.5 L390,730 L395,733.5 L393.5,738 L391,736.8 Z"/>
<path class="n" style="stroke-width:2.4" d="M397,745.5 L402.5,742.5 L402.2,757.5 Z"/>
<path class="n" style="stroke-width:2.4" d="M375,764.5 L388,769.5 L383,770.8 L373.5,767 Z"/>
</g>
<path class="l" d="M395,769.5 V817.5"/>
<text class="g" x="380.12" y="847.0">11</text>
<path class="t" d="M418.6,711.6 L402.5,728.4"/>
<path class="l" d="M367.7,769.9 L345,794.8"/>
<path class="b" d="M338.4,802 L343.2,787.8 L351.6,795.4 Z"/>
<!-- clamp 11 bottom center (D) -->
<g id="clampD">
<path class="o" style="stroke-width:2.8" d="M675.3,804 L684.1,804.7 L689.2,801.8 L695.1,801.1 L696.5,797.1 L703.1,798.2 L703.1,804 Q708,805.5 711.1,807.7 Q714.5,810.5 716.3,813.5 Q717.6,818 717.4,823 Q716.5,829.5 714.1,835.4 Q710,841 704.6,844.9 Q701,846 697.3,845.6 L691.4,843.5 L676.8,837.6 Q674.5,834 673.5,830.3 L673.9,824.5 L677.5,820.1 V814.2 Z"/>
<path class="n" style="stroke-width:2.6" d="M679,808 L688.5,811 L690,816 L694.5,814 L699.5,806.5 M684.1,804.7 L688,810.5 M694,803 L691,806.5"/>
<path class="n" style="stroke-width:2.6" d="M684.5,812 L679,825 L679.5,832 L690,838 L693.5,840.5"/>
<path class="n" style="stroke-width:2.6" d="M690,816 L685.5,828 L692,833.5 L699.5,824 L702,811 M693,823.5 L699,825.5"/>
<path class="n" style="stroke-width:2.6" d="M703.1,804 Q704.5,815 703,826 Q699,834 692.5,841"/>
<path class="n" style="stroke-width:2.4" d="M706.5,817 L712.5,820 L709.5,828.5 L704,832.5 M708,819.5 L707,827"/>
<path class="n" style="stroke-width:2.2" d="M679.5,833.5 L684,837"/>
</g>
<path class="l" d="M693.8,845 V900.5"/>
<text class="g" x="679.62" y="928.1">11</text>
<path class="t" d="M646,805.2 L672.6,815.2"/>
<path class="l" d="M714.5,832 L750,844.6"/>
<path class="b" d="M760,848.2 L745.5,849.6 L748.8,839.4 Z"/>
<!-- E-15 labels -->
<g font-family="Liberation Sans, sans-serif" font-weight="bold" font-size="28.6" fill="#000" stroke="#000" stroke-width="1.6" stroke-linejoin="round">
<text transform="translate(289,840.8) rotate(-1.5)" textLength="69.5" lengthAdjust="spacingAndGlyphs">E-15</text>
<text x="771.6" y="868" textLength="70" lengthAdjust="spacingAndGlyphs">E-15</text>
</g>
<!-- clamp 10 -->
<g id="c10">
<path class="o" style="stroke-width:2.8" d="M715.7,545.4 L735,538 L736.6,545.4 Q742,553.5 744.9,563.6 Q746,572 744.4,579.3 Q740.5,587 733.5,591.8 L727.2,593.9 L714,594.5 Z"/>
<path class="n" style="stroke-width:2.4" d="M720,546.5 L733.5,541.5 M724,549.5 Q732.5,558 734.5,570.5 Q735,582 729.5,591.5 M729,548 Q737.5,557.5 739.5,570 Q739.8,580.5 735,588.5 M733.5,546.5 Q741.5,557 743,568.5"/>
<path class="o" style="stroke-width:2.8" d="M685.4,553.2 L691.6,550.2 L691.2,542.2 L703.2,537.5 L713.1,543.8 L713.4,550 Q720,554 724.5,562 Q728.5,571 727.5,580.5 Q726,588.5 720.5,592.5 Q714,595.5 708,594.5 L700,586.6 L695.4,573 L692.2,559.4 Z"/>
<path class="n" style="stroke-width:2.4" d="M691.6,550.2 L703,545.5 L713.4,550 M703,545.5 L703.2,537.8 M699,549.5 L704.5,553.5 L712,550.5"/>
<ellipse class="n" style="stroke-width:2.2" cx="696.2" cy="553" rx="2.4" ry="2.8"/>
<ellipse class="o" style="stroke-width:2.6" cx="711.2" cy="572.6" rx="11.2" ry="20.4" transform="rotate(-20 711.2 572.6)"/>
<ellipse class="n" style="stroke-width:2.4" cx="713.6" cy="571.6" rx="7.4" ry="17.4" transform="rotate(-22 713.6 571.6)"/>
<path class="n" style="stroke-width:2.4" d="M698.5,556 Q696.5,566 700.5,577.5 Q704,586.5 711,591.5"/>
<path class="o" style="stroke-width:2.8" d="M693.8,590.8 L700,587 L712,593.5 L727,593.5 L726.7,601.2 L720.9,604.3 L713.6,615.8 L704.2,616.9 L698.5,606.4 L699,602.2 L693.3,597 Z"/>
<path class="n" style="stroke-width:2.4" d="M696,593 L709,599.5 L724,597 M702,603 L707.5,613.5 M709,600 L708.5,611 M716,601 L711,612.5 M700,591 L705,594"/>
</g>
<path class="l" d="M745.5,567.6 H787"/>
<text class="g" x="795.52" y="577.0">10</text>
<!-- clamp 12 -->
<g id="c12">
<path class="o" style="stroke-width:2.8" d="M883,533 L895.5,528.4 Q903,531.5 907,537.7 Q909.5,542.5 909.1,547.1 Q908.5,552.5 905.9,556.5 L905.9,559.7 Q911.5,564.5 915.3,570.1 Q918,575 919,580.5 V592 Q917.5,597 914.3,600.4 V605.6 L896.5,611.9 L893.4,606.6 L894.4,599.3 L898.6,595.2 V586.8 Q897.5,580 894.4,574.3 Q892,569.5 888.2,565.9 L882.4,559.7 V552.4 L888,549 L895.5,553.4 L896,546.1 Q895,542.5 892.4,540.4 L885,539.3 Z"/>
<path class="n" style="stroke-width:2.4" d="M885.5,535.5 L896,531.5 Q901.5,536.5 902.5,543 Q903,549.5 900,555.5 L896,553.5 M900,555.5 L898,561 L905.9,559.7 M888,549 L883.5,555 M888.5,557.5 L896,556.5"/>
<path class="n" style="stroke-width:2.4" d="M892,562.5 Q900,568 904.5,578 Q907,588 904,598.5 L897.5,608 M898,561 Q906.5,567 910.5,577.5 Q912.8,588 909.5,598 L914,600.5 M904,598.5 L914.3,601"/>
<path class="o" style="stroke-width:2.8" d="M888.2,565.9 Q880,562.5 875.7,563.8 Q873,566 873.6,569 L873.2,580 L874.6,586.8 L877.2,592 L873.6,595.2 L874.6,598.8 L893.4,590 L888.5,578 L888.2,571.1 Z"/>
<path class="n" style="stroke-width:2.2" d="M877.5,567.5 Q876.5,577 878.5,586 L880.5,590.5 M878,567.5 L884.5,568.2 L885,579 L889,589"/>
<path class="n" style="stroke-width:2.2" d="M897,604.5 L912,599.5"/>
</g>
<path class="l" d="M920.2,582.1 H957"/>
<text class="g" x="962.82" y="595.8">12</text>
<!-- bolt 18 horizontal -->
<g id="b18h">
<path class="o" style="stroke-width:2.6" d="M720.3,777 L722.6,769.6 L728.3,766.6 L735.6,767 L740,772 L738.5,790.5 L729.2,789.6 L722,784.2 Z"/>
<path class="m" d="M727.5,768.5 L725.2,776 L727,785 M732.5,767.5 L730.5,778 L732.5,788.5 M722.5,776.5 L725.2,776 L730.5,778"/>
<ellipse class="o" style="stroke-width:2.6" cx="741.2" cy="781.6" rx="9" ry="14.2" transform="rotate(14 741.2 781.6)"/>
<ellipse class="o" style="stroke-width:2.6" cx="743.6" cy="782.4" rx="9.2" ry="14.4" transform="rotate(14 743.6 782.4)"/>
<ellipse class="o" style="stroke-width:2.8" cx="746.4" cy="783.4" rx="9.6" ry="14.8" transform="rotate(14 746.4 783.4)"/>
<path class="o" style="stroke-width:2.6" d="M746.5,778.8 L766,785.4 Q770.8,787.6 770.4,792.2 Q769.6,797.2 765.2,798.4 L744.5,791.8 Q741.5,786 746.5,778.8 Z"/>
<path class="m" style="stroke-width:2" d="M750,780 Q746.5,786 748.2,793 M753.8,781.2 Q750.4,787.2 752,794.2 M757.6,782.5 Q754.2,788.4 755.8,795.4 M761.4,783.8 Q758,789.6 759.6,796.6 M765.2,785.2 Q761.8,791 763.4,797.8"/>
</g>
<path class="l" d="M744.4,743.8 V768.5"/>
<text class="g" x="728.62" y="738.4">18</text>
<!-- clip 13 -->
<g id="c13">
<path class="o" style="stroke-width:2.8" d="M778.4,759.2 L786,752.5 L791.3,752.5 L795.7,757.4 L795.3,774.3 Q797,780 800.2,784.9 Q804,789 809.1,791.6 L812.6,789.4 Q814.5,785 814.4,780.5 Q811,774 805.5,768.1 V759.2 L811.7,754.3 H816.6 L817,768.1 Q819.5,773 821.5,778.7 Q823,785 823.3,791.1 L827.7,793.8 L828.6,812.4 L813.5,821.3 L803.7,818.6 L802.4,811.1 L807.3,807.1 Q801.5,806 796.6,803.6 Q790.5,799 786,792.9 Q782,787 779.8,780.5 Q778.2,774 778,767.2 Z"/>
<path class="n" style="stroke-width:2.4" d="M782.5,758 L786.5,755 L791,760.5 Q788.5,768 789.5,776 Q792,786 800,793 Q805.5,796.5 811.5,797.5 L822,792.5 M786,763.5 Q784.5,771 786,779 Q789.5,790 798.5,797 Q804,800 809.5,801"/>
<path class="n" style="stroke-width:2.4" d="M807.3,807.1 L822.5,797.5 L827.7,793.8 M807.5,759.5 L812.5,757.5 L812.2,763.5 M807.3,807.1 L808.5,812.5 L813.5,814.2 L813.5,821"/>
<ellipse class="n" style="stroke-width:2.2" cx="817.2" cy="807" rx="1.8" ry="3.4" transform="rotate(20 817.2 807)"/>
<rect class="n" style="stroke-width:2" x="806" y="813.8" width="2.6" height="2.8"/>
</g>
<path class="l" d="M823,781.8 H867.5"/>
<text class="g" x="872.62" y="790.2">13</text>

<!-- watermark -->
<g style="mix-blend-mode:multiply">
<g transform="translate(81.2,934) rotate(-23.5)" font-family="Liberation Sans, sans-serif" font-size="250" fill="#f1f1f1">
<text transform="scale(1,1.041)" x="0" y="0">H</text>
<text x="180.53" y="0">onda</text>
<text transform="translate(736.69,0) scale(1,1.041)" x="0" y="0">C</text>
<text x="917.23" y="0">ar</text>
<text transform="translate(1139.52,0) scale(1,1.041)" x="0" y="0">M</text>
<text x="1347.77" y="0">ine.ru</text>
</g>
</g>

</svg>
</body></html>
